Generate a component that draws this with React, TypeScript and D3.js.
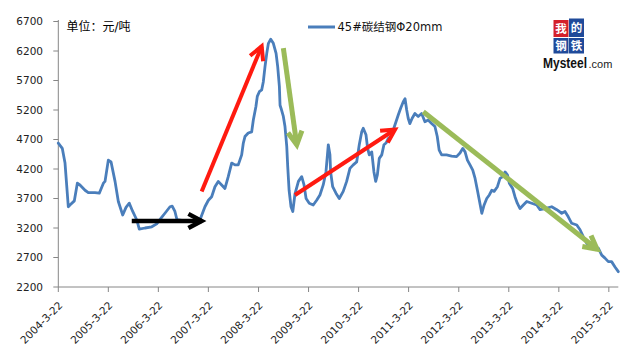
import React from "react";
import * as d3 from "d3";

// ---- data ----
const dates: string[] = [
  "2004-03-22","2004-04-20","2004-05-10","2004-06-03","2004-06-15","2004-07-17","2004-08-08","2004-08-27","2004-10-03","2004-10-27",
  "2004-12-15","2005-01-15","2005-02-14","2005-02-26","2005-03-22","2005-04-11","2005-05-10","2005-06-03","2005-07-05","2005-07-29",
  "2005-08-22","2005-09-16","2005-10-15","2005-11-03","2005-12-15","2006-02-02","2006-03-10","2006-04-15","2006-05-09","2006-06-15",
  "2006-07-01","2006-07-21","2006-08-05","2006-10-02","2006-11-30","2007-01-20","2007-02-25","2007-03-22","2007-04-15","2007-05-09",
  "2007-06-02","2007-06-27","2007-07-21","2007-08-14","2007-09-08","2007-10-02","2007-10-26","2007-11-20","2007-12-02","2007-12-14",
  "2008-01-07","2008-02-01","2008-02-13","2008-03-03","2008-03-13","2008-03-28","2008-04-14","2008-04-26","2008-05-08","2008-05-21",
  "2008-06-02","2008-06-19","2008-07-08","2008-07-28","2008-08-09","2008-08-21","2008-08-26","2008-09-02","2008-09-19","2008-10-01",
  "2008-10-14","2008-10-21","2008-10-31","2008-11-14","2008-11-27","2008-12-13","2009-01-07","2009-01-31","2009-02-17","2009-03-04",
  "2009-03-27","2009-04-25","2009-05-20","2009-06-13","2009-07-07","2009-07-27","2009-08-13","2009-08-25","2009-08-30","2009-09-14",
  "2009-10-08","2009-11-01","2009-11-30","2009-12-25","2010-01-18","2010-02-11","2010-03-08","2010-03-27","2010-04-14","2010-04-25",
  "2010-05-15","2010-05-27","2010-06-08","2010-06-26","2010-07-12","2010-07-25","2010-08-06","2010-08-20","2010-09-07","2010-09-23",
  "2010-10-08","2010-10-25","2010-11-14","2010-11-30","2010-12-20","2011-01-06","2011-01-23","2011-02-11","2011-02-24","2011-03-08",
  "2011-03-19","2011-03-31","2011-04-17","2011-05-07","2011-05-31","2011-06-25","2011-07-19","2011-08-12","2011-09-06","2011-09-30",
  "2011-10-17","2011-10-31","2011-11-18","2011-12-24","2012-01-30","2012-03-06","2012-03-31","2012-04-20","2012-05-07","2012-05-24",
  "2012-06-12","2012-07-02","2012-07-19","2012-08-05","2012-08-19","2012-09-06","2012-09-23","2012-10-12","2012-10-31","2012-11-18",
  "2012-12-05","2012-12-29","2013-01-17","2013-02-06","2013-02-23","2013-03-12","2013-03-26","2013-04-19","2013-05-06","2013-05-23",
  "2013-06-12","2013-07-06","2013-07-31","2013-09-05","2013-10-12","2013-11-05","2013-12-11","2014-01-29","2014-03-07","2014-04-12",
  "2014-05-06","2014-05-30","2014-06-24","2014-07-31","2014-08-24","2014-09-17","2014-10-12","2014-11-17","2015-01-04","2015-01-29",
  "2015-02-22","2015-03-18","2015-04-11","2015-05-06","2015-05-30",
];
const prices: number[] = [
  4640,4550,4300,3560,3590,3660,3960,3930,3840,3800,
  3800,3790,3960,3990,4350,4320,3990,3650,3420,3550,
  3620,3480,3340,3180,3200,3220,3270,3380,3450,3560,
  3570,3480,3340,3320,3310,3340,3560,3670,3730,3900,
  3990,3930,3870,4070,4300,4270,4270,4440,4640,4750,
  4810,4830,5030,5260,5430,5510,5540,5680,5930,6160,
  6330,6400,6330,6160,5930,5600,5280,5230,5090,4920,
  4580,4240,3840,3560,3480,3780,3990,4070,3930,3700,
  3620,3590,3670,3760,3930,4150,4610,4440,4150,3900,
  3790,3700,3820,3990,4210,4270,4320,4610,4830,4890,
  4780,4550,4440,4490,4150,3990,4100,4380,4440,4610,
  4640,4720,4750,4860,5000,5120,5230,5340,5390,5200,
  5060,4970,5060,5140,5090,5140,5000,5030,4970,4920,
  4750,4520,4440,4440,4420,4410,4470,4550,4490,4350,
  4270,4180,4040,3840,3670,3450,3590,3700,3760,3840,
  3820,3900,4040,4070,4150,4100,3960,3870,3730,3620,
  3530,3590,3650,3620,3590,3510,3530,3560,3510,3450,
  3480,3390,3280,3250,3170,3050,2940,2880,2860,2740,
  2690,2630,2630,2540,2460,
];
const xTickDates: string[] = [
  "2004-03-22","2005-03-22","2006-03-22","2007-03-22","2008-03-22","2009-03-22",
  "2010-03-22","2011-03-22","2012-03-22","2013-03-22","2014-03-22","2015-03-22",
];
const yTicks: number[] = [2200, 2700, 3200, 3700, 4200, 4700, 5200, 5700, 6200, 6700];
const seriesName = "45#碳结钢Φ20mm";
const unitLabel = "单位：元/吨";

// trend annotations (data space)
const arrowFromDates: string[] = ["2005-09-09", "2007-02-01", "2008-09-19", "2008-12-13", "2011-07-07"];
const arrowFromValues: number[] = [3320, 3820, 6250, 3760, 5170];
const arrowToDates: string[] = ["2007-02-01", "2008-04-14", "2008-12-26", "2010-12-13", "2014-12-26"];
const arrowToValues: number[] = [3320, 6280, 4610, 4870, 2840];
const arrowKinds: string[] = ["flat", "up", "down", "up", "down"];

// ---- styles ----
const kindColor: Record<string, string> = { flat: "#000000", up: "#ff1a10", down: "#9bbb59" };
const kindWidth: Record<string, number> = { flat: 4.5, up: 4, down: 5 };
const lineColor = "#4a7ebb";
const axisColor = "#868686";
const tickFont = "'DejaVu Sans', Verdana, sans-serif";
const cjkFont = "'DejaVu Sans', 'Noto Sans CJK SC', sans-serif";

const parse = d3.timeParse("%Y-%m-%d");
const fmt = d3.timeFormat("%Y-%-m-%-d");

export default function App() {
  const W = 640, H = 356;
  const left = 58.3, right = 618.3, top = 21.5, bottom = 287;
  const x = d3.scaleTime()
    .domain([parse(dates[0]) as Date, parse(dates[dates.length - 1]) as Date])
    .range([left, right]);
  const y = d3.scaleLinear().domain([2200, 6700]).range([bottom, top]);

  const pts = dates.map((d, i) => ({ t: parse(d) as Date, v: prices[i] }));
  const line = d3.line<{ t: Date; v: number }>()
    .x((d) => x(d.t))
    .y((d) => y(d.v))
    .curve(d3.curveLinear);

  const arrows = arrowFromDates.map((d, i) => {
    const x1 = x(parse(d) as Date), y1 = y(arrowFromValues[i]);
    const x2 = x(parse(arrowToDates[i]) as Date), y2 = y(arrowToValues[i]);
    const ang = Math.atan2(y2 - y1, x2 - x1);
    const hl = 15, ha = (28 * Math.PI) / 180;
    const a1 = [x2 - hl * Math.cos(ang - ha), y2 - hl * Math.sin(ang - ha)];
    const a2 = [x2 - hl * Math.cos(ang + ha), y2 - hl * Math.sin(ang + ha)];
    const kind = arrowKinds[i];
    return { x1, y1, x2, y2, a1, a2, color: kindColor[kind], w: kindWidth[kind] };
  });

  return (
    <svg width={W} height={H} style={{ position: "absolute", left: 0, top: 0, background: "#fff" }}>
      <rect x={0} y={0} width={W} height={H} fill="#fff" />
      {/* Y axis */}
      <line x1={left} x2={left} y1={top - 1.5} y2={bottom} stroke={axisColor} strokeWidth={1} />
      {yTicks.map((t) => (
        <g key={t}>
          <line x1={left - 5} x2={left} y1={y(t)} y2={y(t)} stroke={axisColor} />
          <text x={43} y={y(t)} dy="0.36em" textAnchor="end" fontSize={10.5} fontFamily={tickFont} fill="#222">
            {t}
          </text>
        </g>
      ))}
      {/* X axis */}
      <line x1={left} x2={right} y1={bottom} y2={bottom} stroke={axisColor} strokeWidth={1} />
      {xTickDates.map((s) => {
        const tx = x(parse(s) as Date);
        return (
          <g key={s}>
            <line x1={tx} x2={tx} y1={bottom} y2={bottom + 5} stroke={axisColor} />
            <text
              transform={`translate(${tx + 5},${bottom + 19}) rotate(-45)`}
              textAnchor="end"
              fontSize={10.5}
              fontFamily={tickFont}
              fill="#222"
            >
              {fmt(parse(s) as Date)}
            </text>
          </g>
        );
      })}
      {/* series */}
      <path d={line(pts) || ""} fill="none" stroke={lineColor} strokeWidth={2.8} strokeLinejoin="round" strokeLinecap="round" />
      {/* arrows */}
      {arrows.map((a, i) => (
        <g key={i} stroke={a.color} strokeWidth={a.w} fill="none" strokeLinecap="butt" strokeLinejoin="miter">
          <line x1={a.x1} y1={a.y1} x2={a.x2} y2={a.y2} />
          <polyline points={`${a.a1[0]},${a.a1[1]} ${a.x2},${a.y2} ${a.a2[0]},${a.a2[1]}`} />
        </g>
      ))}
      {/* unit label */}
      <text x={66.5} y={27} dy="0.36em" fontSize={12} fontFamily={cjkFont} fill="#000">
        {unitLabel}
      </text>
      {/* legend */}
      <line x1={308} x2={335} y1={27} y2={27} stroke={lineColor} strokeWidth={3} />
      <text x={337.5} y={27} dy="0.36em" fontSize={11.5} fontFamily={cjkFont} fill="#111">
        {seriesName}
      </text>
      {/* logo */}
      <g fontFamily="'Noto Sans CJK SC', sans-serif" fontWeight={700} fontSize={11.5} fill="#fff" textAnchor="middle">
        <rect x={553.5} y={20} width={15} height={17} fill="#d4202a" />
        <rect x={569} y={18.5} width={15} height={18.5} fill="#1f4a9a" />
        <rect x={553.5} y={38} width={15} height={15.5} fill="#1f4a9a" />
        <rect x={569} y={38} width={15} height={15.5} fill="#1f4a9a" />
        <text x={561} y={32.5}>我</text>
        <text x={576.5} y={32}>的</text>
        <text x={561} y={50}>钢</text>
        <text x={576.5} y={50}>铁</text>
      </g>
      <text transform="translate(543,68) scale(0.8,1)" fontSize={15} fontWeight={700} fontFamily="'Liberation Sans', Arial, sans-serif" fill="#111">
        Mysteel
      </text>
      <text x={588.5} y={68} fontSize={11} fontFamily="'Liberation Sans', Arial, sans-serif" fill="#222">
        .com
      </text>
    </svg>
  );
}
